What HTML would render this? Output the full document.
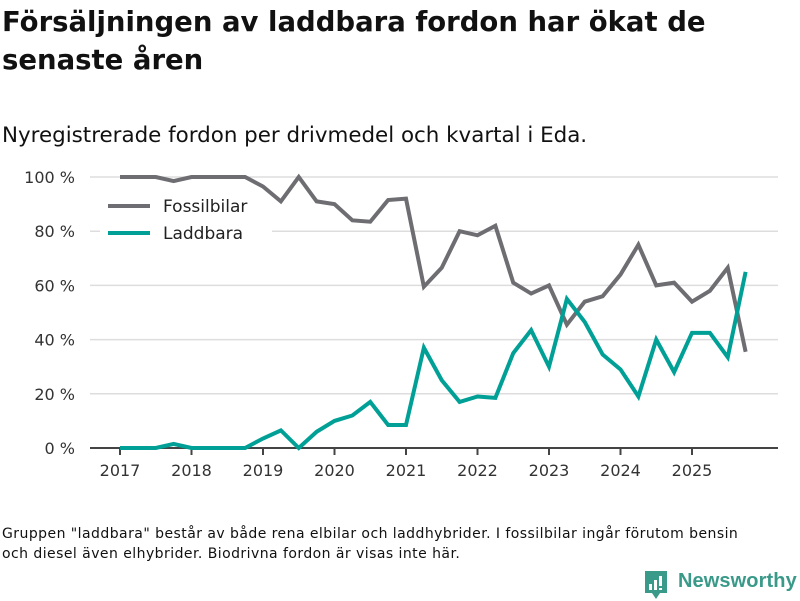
<!DOCTYPE html>
<html><head><meta charset="utf-8"><style>
body{margin:0;width:800px;height:600px;background:#fff;font-family:"DejaVu Sans","Liberation Sans",sans-serif;color:#111;overflow:hidden;position:relative}
.t{position:absolute;left:2px;top:3px;font-size:27.5px;font-weight:bold;line-height:38px;width:790px}
.s{position:absolute;left:2px;top:123px;font-size:21.4px}
.f{position:absolute;left:2px;top:524px;font-size:14px;letter-spacing:0.45px;line-height:20px;width:796px;white-space:nowrap}
</style></head><body>
<div class="t">Försäljningen av laddbara fordon har ökat de<br>senaste åren</div>
<div class="s">Nyregistrerade fordon per drivmedel och kvartal i Eda.</div>
<svg id="c" width="800" height="600" style="position:absolute;left:0;top:0"></svg>
<div class="f">Gruppen "laddbara" består av både rena elbilar och laddhybrider. I fossilbilar ingår förutom bensin<br>och diesel även elhybrider. Biodrivna fordon är visas inte här.</div>
<div style="position:absolute;left:645px;top:570px;height:30px">
<svg width="26" height="30" style="position:absolute;left:0;top:1px"><path d="M0 0H22V22H15L11 28L7 22H0Z" fill="#3a9a8a"/><rect x="4" y="13" width="3" height="6" fill="#fff"/><rect x="9" y="9" width="3" height="10" fill="#fff"/><rect x="14" y="5" width="3" height="10" fill="#fff"/><rect x="14" y="17" width="3" height="2" fill="#fff"/></svg>
<span style="position:absolute;left:33px;top:0;font-size:20px;color:#3a9a8a;white-space:nowrap;font-family:'Liberation Sans',sans-serif;font-weight:bold;letter-spacing:0.1px">Newsworthy</span></div>
<script>
const years=[2017,2018,2019,2020,2021,2022,2023,2024,2025];
const yTicks=[0,20,40,60,80,100];
const fossil=[100,100,100,98.5,100,100,100,100,96.5,91,100,91,90,84,83.5,91.5,92,59.5,66.5,80,78.5,82,61,57,60,45.5,54,56,64,75,60,61,54,58,66.5,35.5];
const laddbara=[0,0,0,1.5,0,0,0,0,3.5,6.5,0,6,10,12,17,8.5,8.5,37,25,17,19,18.5,35,43.5,30,55,46.5,34.5,29,19,40,28,42.5,42.5,33.5,65];
const svg=document.getElementById('c');const NS='http://www.w3.org/2000/svg';
const X=t=>120+(t-2017)*71.5, Y=v=>448-v*2.71;
function mk(tag,a){const e=document.createElementNS(NS,tag);for(const k in a)e.setAttribute(k,a[k]);svg.appendChild(e);return e;}
yTicks.forEach(v=>{if(v>0){const g=mk('line',{x1:90,x2:778,y1:Y(v),y2:Y(v),stroke:'#ddd','stroke-width':1.5});

}
const t=mk('text',{x:75,y:Y(v)+6,'text-anchor':'end','font-size':16,fill:'#333'});t.textContent=v+' %';

});
const ax=mk('line',{x1:90,x2:778,y1:448,y2:448,stroke:'#444','stroke-width':2});


years.forEach(y=>{mk('line',{x1:X(y),x2:X(y),y1:448,y2:455,stroke:'#444','stroke-width':2});
const t=mk('text',{x:X(y),y:476,'text-anchor':'middle','font-size':16,fill:'#333'});t.textContent=y;

});
function line(d,c,n){const p=mk('polyline',{points:d.map((v,i)=>X(2017+i/4)+','+Y(v)).join(' '),fill:'none',stroke:c,'stroke-width':4,'stroke-linejoin':'miter'});

}
const lb=mk('rect',{x:100,y:190,width:172,height:58,fill:'#fff'});
line(fossil,'#6e6d72','fossilbilar-line');
line(laddbara,'#00a096','laddbara-line');
[['Fossilbilar','#6e6d72',206],['Laddbara','#00a096',233]].forEach(([n,c,y])=>{
const l=mk('line',{x1:108,x2:150,y1:y,y2:y,stroke:c,'stroke-width':4});


const t=mk('text',{x:163,y:y+6,'font-size':17,fill:'#222'});t.textContent=n;

});
</script>
</body></html>
